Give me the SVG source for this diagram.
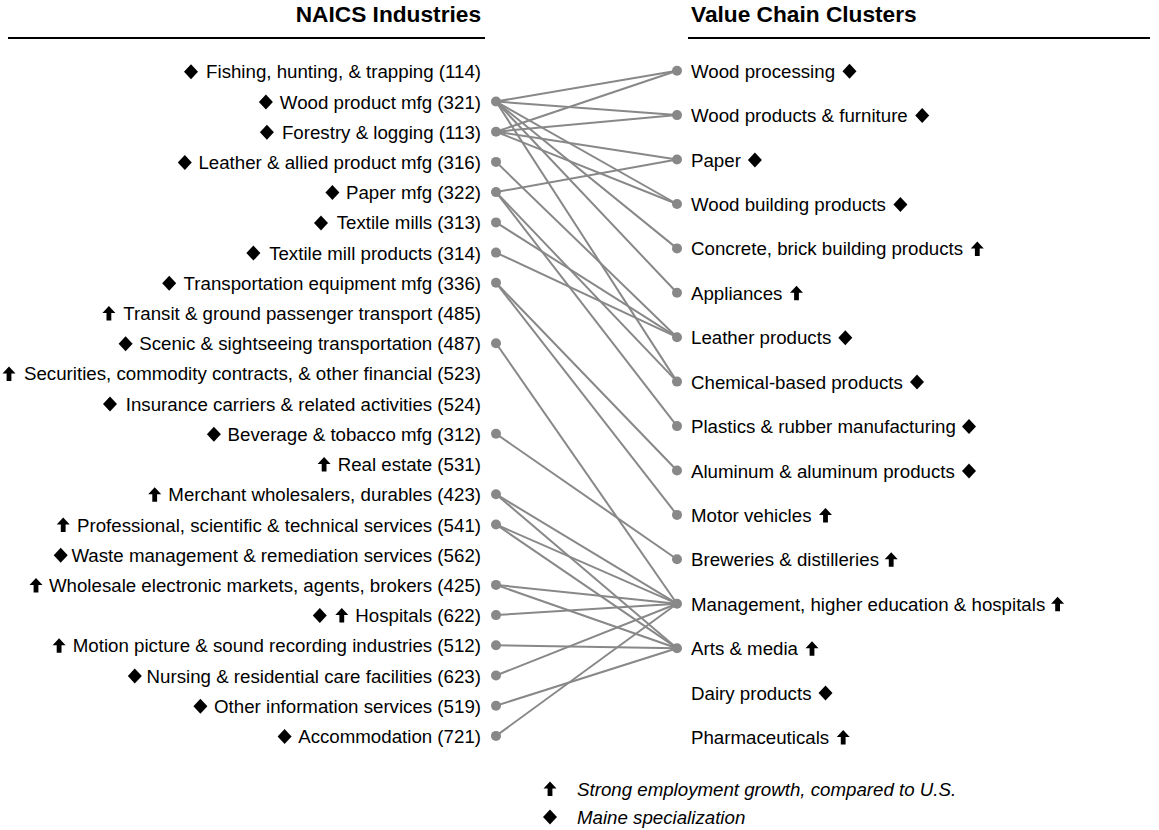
<svg xmlns="http://www.w3.org/2000/svg" xmlns:xlink="http://www.w3.org/1999/xlink" width="1159" height="830" viewBox="0 0 1159 830">
<style>
text{font-family:"Liberation Sans",Arial,sans-serif;font-size:18.7px;fill:#000}
.hd{font-weight:bold;font-size:22.7px}
.l{text-anchor:end}
.it{font-style:italic}
.rule{stroke:#000;stroke-width:2}
.dot{fill:#888}
#connectors line{stroke:#888;stroke-width:2}
</style>
<defs>
<path id="dia" d="M0,-7.5 L7,0 L0,7.5 L-7,0 Z" fill="#000"/>
<path id="up" d="M0,-7.5 L6.5,-0.5 L2.4,-0.5 L2.4,7 L-2.4,7 L-2.4,-0.5 L-6.5,-0.5 Z" fill="#000"/>
</defs>
<rect width="1159" height="830" fill="#fff"/>
<g id="headers">
<text class="hd l" x="481" y="22">NAICS Industries</text>
<line class="rule" x1="8" y1="38" x2="485" y2="38"/>
<text class="hd" x="691" y="22">Value Chain Clusters</text>
<line class="rule" x1="688" y1="38" x2="1150" y2="38"/>
</g>
<g id="connectors">
<line x1="496" y1="101.5" x2="677" y2="70.7"/>
<line x1="496" y1="101.5" x2="677" y2="115.1"/>
<line x1="496" y1="101.5" x2="677" y2="204"/>
<line x1="496" y1="101.5" x2="677" y2="248.4"/>
<line x1="496" y1="101.5" x2="677" y2="292.8"/>
<line x1="496" y1="101.5" x2="677" y2="381.6"/>
<line x1="496" y1="131.7" x2="677" y2="70.7"/>
<line x1="496" y1="131.7" x2="677" y2="115.1"/>
<line x1="496" y1="131.7" x2="677" y2="159.5"/>
<line x1="496" y1="131.7" x2="677" y2="204"/>
<line x1="496" y1="161.9" x2="677" y2="337.2"/>
<line x1="496" y1="192.1" x2="677" y2="159.5"/>
<line x1="496" y1="192.1" x2="677" y2="381.6"/>
<line x1="496" y1="192.1" x2="677" y2="426.1"/>
<line x1="496" y1="222.4" x2="677" y2="337.2"/>
<line x1="496" y1="252.6" x2="677" y2="337.2"/>
<line x1="496" y1="282.8" x2="677" y2="470.5"/>
<line x1="496" y1="282.8" x2="677" y2="514.9"/>
<line x1="496" y1="343.2" x2="677" y2="603.7"/>
<line x1="496" y1="433.8" x2="677" y2="559.3"/>
<line x1="496" y1="494.2" x2="677" y2="603.7"/>
<line x1="496" y1="494.2" x2="677" y2="648.2"/>
<line x1="496" y1="524.5" x2="677" y2="603.7"/>
<line x1="496" y1="524.5" x2="677" y2="648.2"/>
<line x1="496" y1="584.9" x2="677" y2="603.7"/>
<line x1="496" y1="584.9" x2="677" y2="648.2"/>
<line x1="496" y1="615.1" x2="677" y2="603.7"/>
<line x1="496" y1="645.3" x2="677" y2="648.2"/>
<line x1="496" y1="675.5" x2="677" y2="603.7"/>
<line x1="496" y1="705.7" x2="677" y2="648.2"/>
<line x1="496" y1="735.9" x2="677" y2="603.7"/>
</g>
<g id="n-114"><use href="#dia" x="191" y="71.8"/><text class="l" x="481" y="78.3">Fishing, hunting, &amp; trapping (114)</text></g>
<g id="n-321"><use href="#dia" x="265.9" y="102"/><text class="l" x="481" y="108.5">Wood product mfg (321)</text><circle class="dot" cx="496" cy="101.5" r="5"/></g>
<g id="n-113"><use href="#dia" x="266.9" y="132.2"/><text class="l" x="481" y="138.7">Forestry &amp; logging (113)</text><circle class="dot" cx="496" cy="131.7" r="5"/></g>
<g id="n-316"><use href="#dia" x="184.8" y="162.4"/><text class="l" x="481" y="168.9">Leather &amp; allied product mfg (316)</text><circle class="dot" cx="496" cy="161.9" r="5"/></g>
<g id="n-322"><use href="#dia" x="332.4" y="192.6"/><text class="l" x="481" y="199.1">Paper mfg (322)</text><circle class="dot" cx="496" cy="192.1" r="5"/></g>
<g id="n-313"><use href="#dia" x="321" y="222.9"/><text class="l" x="481" y="229.4">Textile mills (313)</text><circle class="dot" cx="496" cy="222.4" r="5"/></g>
<g id="n-314"><use href="#dia" x="253.4" y="253.1"/><text class="l" x="481" y="259.6">Textile mill products (314)</text><circle class="dot" cx="496" cy="252.6" r="5"/></g>
<g id="n-336"><use href="#dia" x="169.2" y="283.3"/><text class="l" x="481" y="289.8">Transportation equipment mfg (336)</text><circle class="dot" cx="496" cy="282.8" r="5"/></g>
<g id="n-485"><use href="#up" x="108.9" y="313.5"/><text class="l" x="481" y="320">Transit &amp; ground passenger transport (485)</text></g>
<g id="n-487"><use href="#dia" x="125.6" y="343.7"/><text class="l" x="481" y="350.2">Scenic &amp; sightseeing transportation (487)</text><circle class="dot" cx="496" cy="343.2" r="5"/></g>
<g id="n-523"><use href="#up" x="9" y="373.9"/><text class="l" x="481" y="380.4">Securities, commodity contracts, &amp; other financial (523)</text></g>
<g id="n-524"><use href="#dia" x="110" y="404.1"/><text class="l" x="481" y="410.6">Insurance carriers &amp; related activities (524)</text></g>
<g id="n-312"><use href="#dia" x="213.9" y="434.3"/><text class="l" x="481" y="440.8">Beverage &amp; tobacco mfg (312)</text><circle class="dot" cx="496" cy="433.8" r="5"/></g>
<g id="n-531"><use href="#up" x="324.1" y="464.5"/><text class="l" x="481" y="471">Real estate (531)</text></g>
<g id="n-423"><use href="#up" x="154.7" y="494.7"/><text class="l" x="481" y="501.2">Merchant wholesalers, durables (423)</text><circle class="dot" cx="496" cy="494.2" r="5"/></g>
<g id="n-541"><use href="#up" x="63.2" y="525"/><text class="l" x="481" y="531.5">Professional, scientific &amp; technical services (541)</text><circle class="dot" cx="496" cy="524.5" r="5"/></g>
<g id="n-562"><use href="#dia" x="60.7" y="555.2"/><text class="l" x="481" y="561.7">Waste management &amp; remediation services (562)</text></g>
<g id="n-425"><use href="#up" x="36" y="585.4"/><text class="l" x="481" y="591.9">Wholesale electronic markets, agents, brokers (425)</text><circle class="dot" cx="496" cy="584.9" r="5"/></g>
<g id="n-622"><use href="#dia" x="319.8" y="615.6"/><use href="#up" x="341.8" y="615.6"/><text class="l" x="481" y="622.1">Hospitals (622)</text><circle class="dot" cx="496" cy="615.1" r="5"/></g>
<g id="n-512"><use href="#up" x="59.1" y="645.8"/><text class="l" x="481" y="652.3">Motion picture &amp; sound recording industries (512)</text><circle class="dot" cx="496" cy="645.3" r="5"/></g>
<g id="n-623"><use href="#dia" x="134.8" y="676"/><text class="l" x="481" y="682.5">Nursing &amp; residential care facilities (623)</text><circle class="dot" cx="496" cy="675.5" r="5"/></g>
<g id="n-519"><use href="#dia" x="200.4" y="706.2"/><text class="l" x="481" y="712.7">Other information services (519)</text><circle class="dot" cx="496" cy="705.7" r="5"/></g>
<g id="n-721"><use href="#dia" x="284.6" y="736.4"/><text class="l" x="481" y="742.9">Accommodation (721)</text><circle class="dot" cx="496" cy="735.9" r="5"/></g>
<g id="c-wood-processing"><circle class="dot" cx="677" cy="70.7" r="5"/><text x="691" y="77.7">Wood processing</text><use href="#dia" x="849.5" y="71.2"/></g>
<g id="c-wood-products"><circle class="dot" cx="677" cy="115.1" r="5"/><text x="691" y="122.1">Wood products &amp; furniture</text><use href="#dia" x="922.2" y="115.6"/></g>
<g id="c-paper"><circle class="dot" cx="677" cy="159.5" r="5"/><text x="691" y="166.5">Paper</text><use href="#dia" x="754.9" y="160"/></g>
<g id="c-wood-building"><circle class="dot" cx="677" cy="204" r="5"/><text x="691" y="211">Wood building products</text><use href="#dia" x="900.4" y="204.5"/></g>
<g id="c-concrete"><circle class="dot" cx="677" cy="248.4" r="5"/><text x="691" y="255.4">Concrete, brick building products</text><use href="#up" x="977.3" y="248.9"/></g>
<g id="c-appliances"><circle class="dot" cx="677" cy="292.8" r="5"/><text x="691" y="299.8">Appliances</text><use href="#up" x="796.5" y="293.3"/></g>
<g id="c-leather"><circle class="dot" cx="677" cy="337.2" r="5"/><text x="691" y="344.2">Leather products</text><use href="#dia" x="845.3" y="337.7"/></g>
<g id="c-chemical"><circle class="dot" cx="677" cy="381.6" r="5"/><text x="691" y="388.6">Chemical-based products</text><use href="#dia" x="917" y="382.1"/></g>
<g id="c-plastics"><circle class="dot" cx="677" cy="426.1" r="5"/><text x="691" y="433.1">Plastics &amp; rubber manufacturing</text><use href="#dia" x="969" y="426.6"/></g>
<g id="c-aluminum"><circle class="dot" cx="677" cy="470.5" r="5"/><text x="691" y="477.5">Aluminum &amp; aluminum products</text><use href="#dia" x="969" y="471"/></g>
<g id="c-motor"><circle class="dot" cx="677" cy="514.9" r="5"/><text x="691" y="521.9">Motor vehicles</text><use href="#up" x="825.5" y="515.4"/></g>
<g id="c-breweries"><circle class="dot" cx="677" cy="559.3" r="5"/><text x="691" y="566.3">Breweries &amp; distilleries</text><use href="#up" x="891.2" y="559.8"/></g>
<g id="c-management"><circle class="dot" cx="677" cy="603.7" r="5"/><text x="691" y="610.7">Management, higher education &amp; hospitals</text><use href="#up" x="1057.6" y="604.2"/></g>
<g id="c-arts"><circle class="dot" cx="677" cy="648.2" r="5"/><text x="691" y="655.2">Arts &amp; media</text><use href="#up" x="812" y="648.7"/></g>
<g id="c-dairy"><text x="691" y="699.6">Dairy products</text><use href="#dia" x="825.5" y="693.1"/></g>
<g id="c-pharma"><text x="691" y="744">Pharmaceuticals</text><use href="#up" x="843.2" y="737.5"/></g>
<g id="legend">
<use href="#up" x="550" y="789"/><text class="it" x="577" y="795.5">Strong employment growth, compared to U.S.</text>
<use href="#dia" x="550" y="817"/><text class="it" x="577" y="823.5">Maine specialization</text>
</g>
</svg>
